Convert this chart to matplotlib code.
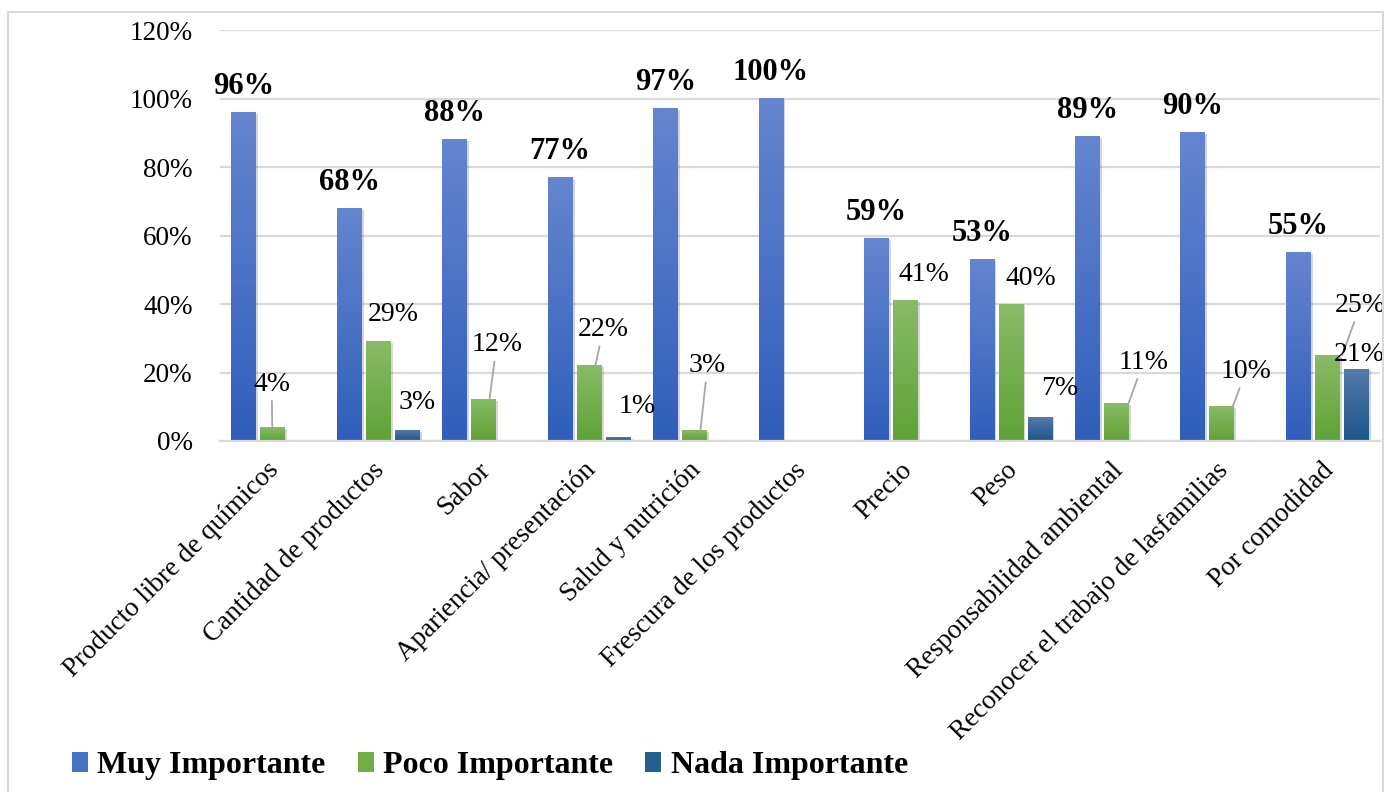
"""Importance of purchase factors: grouped bars with gradient fill."""

import matplotlib.pyplot as plt
import matplotlib.patheffects as pe
import matplotlib.transforms as mtransforms
import numpy as np
from matplotlib.colors import LinearSegmentedColormap
from matplotlib.patches import Patch, Rectangle
from matplotlib.ticker import FuncFormatter

plt.rcParams["font.family"] = ["Liberation Serif", "DejaVu Serif"]

categories = [
    "Producto libre de químicos",
    "Cantidad de productos",
    "Sabor",
    "Apariencia/ presentación",
    "Salud y nutrición",
    "Frescura de los productos",
    "Precio",
    "Peso",
    "Responsabilidad ambiental",
    "Reconocer el trabajo de lasfamilias",
    "Por comodidad",
]
series_names = ["Muy Importante", "Poco Importante", "Nada Importante"]
muy = [96, 68, 88, 77, 97, 100, 59, 53, 89, 90, 55]
poco = [4, 29, 12, 22, 3, 0, 41, 40, 11, 10, 25]
nada = [0, 3, 0, 1, 0, 0, 0, 7, 0, 0, 21]

# gradient (top, bottom) per series
grads = [("#6585cf", "#2f5fbb"), ("#88bb66", "#5fa236"), ("#5479a6", "#1c568f")]
legend_cols = ["#4472c4", "#70ad47", "#255e91"]

# hand-placed label offsets for the small series: (dx px, dy px, leader line)
poco_off = {
    0: (-1, -43, True), 1: (15, -27, False), 2: (13, -55, True),
    3: (14, -36, True), 4: (13, -65, True), 6: (18, -26, False),
    7: (20, -26, False), 8: (27, -41, True), 9: (24, -35, True),
    10: (33, -50, True),
}
nada_off = {1: (10, -28, False), 3: (19, -31, False), 7: (20, -29, False),
            10: (3, -15, False)}

fig = plt.figure(figsize=(13.86, 7.92), dpi=100)
ax = fig.add_axes([0.1587, 0.4432, 0.8370, 0.5188])

x = np.arange(len(categories))
width = 0.235
step = 0.275
px_per_unit = 105.5

for k, vals in enumerate([muy, poco, nada]):
    bars = ax.bar(x + (k - 1) * step, vals, width, color=grads[k][1], zorder=2,
                  linewidth=0,
                  path_effects=[pe.SimplePatchShadow(offset=(1.5, -1), alpha=0.18),
                                pe.Normal()])
    cmap = LinearSegmentedColormap.from_list(f"g{k}", [grads[k][1], grads[k][0]])
    for b in bars:
        h = b.get_height()
        if h <= 0:
            continue
        x0 = b.get_x()
        ax.imshow(np.linspace(0, 1, 100).reshape(-1, 1), cmap=cmap, origin="lower",
                  extent=[x0, x0 + width, 0, h], aspect="auto", zorder=2.5)

ax.set_xlim(-0.5, len(categories) - 0.5)
ax.set_ylim(0, 120)
ax.set_yticks(np.arange(0, 121, 20))
ax.yaxis.set_major_formatter(FuncFormatter(lambda v, _: f"{v:.0f}%"))
ax.grid(axis="y", color="#d9d9d9", linewidth=1.6, zorder=0)
ax.set_axisbelow(True)
for s in ["top", "right", "left"]:
    ax.spines[s].set_visible(False)
ax.spines["bottom"].set_color("#d9d9d9")
ax.spines["bottom"].set_linewidth(1.6)
ax.tick_params(axis="both", length=0, colors="black")
ax.tick_params(axis="y", pad=19.5, labelsize=19.5)
ax.set_xticks(x)
ax.set_xticklabels(categories, rotation=45, ha="right", rotation_mode="anchor",
                   fontsize=19.5)
shift = mtransforms.ScaledTranslation(-0.06, -0.12, fig.dpi_scale_trans)
for lbl in ax.get_xticklabels():
    lbl.set_transform(lbl.get_transform() + shift)

# bold labels above the main series
for xi, v in zip(x, muy):
    ax.annotate(f"{v}%", xy=(xi - step, v), xytext=(0, 26), textcoords="offset pixels",
                ha="center", va="center", fontsize=22, fontweight="bold", zorder=5)


def small_label(xc, v, off):
    dx, dy, leader = off
    if leader:
        end_dx = 0.45 * dx
        ax.annotate(f"{v}%", xy=(xc + end_dx / px_per_unit, v),
                    xytext=(dx - end_dx, -dy), textcoords="offset pixels",
                    ha="center", va="center", fontsize=20, zorder=5,
                    arrowprops=dict(arrowstyle="-", color="#a6a6a6", lw=1.3,
                                    shrinkA=1, shrinkB=0))
    else:
        ax.annotate(f"{v}%", xy=(xc, v), xytext=(dx, -dy), textcoords="offset pixels",
                    ha="center", va="center", fontsize=20, zorder=5)


for i, off in poco_off.items():
    small_label(x[i], poco[i], off)
for i, off in nada_off.items():
    small_label(x[i] + step, nada[i], off)

handles = [Patch(facecolor=c) for c in legend_cols]
fig.legend(handles, series_names, loc="center left", bbox_to_anchor=(0.031, 0.033),
           ncol=3, frameon=False, prop=dict(size=23, weight="bold"),
           handlelength=0.5, handleheight=0.55, handletextpad=0.3, columnspacing=1.0)

fig.patches.append(Rectangle((0.0058, -0.02), 0.992, 1.005, transform=fig.transFigure,
                             fill=False, edgecolor="#d9d9d9", linewidth=1.5))

fig.savefig("out.png", dpi=100)
